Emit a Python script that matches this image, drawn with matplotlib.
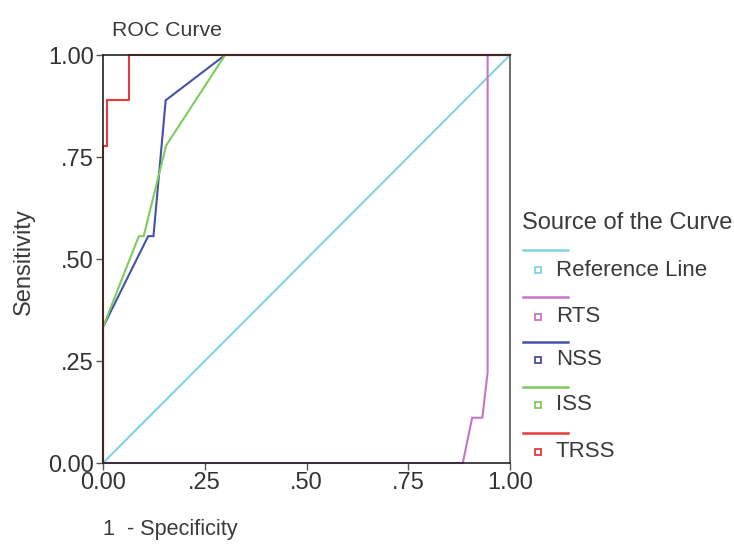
import matplotlib
matplotlib.use("Agg")
import matplotlib.pyplot as plt
from matplotlib.lines import Line2D

plt.rcParams['font.family'] = ['Liberation Sans', 'DejaVu Sans']

# ROC curve data (1 - specificity, sensitivity)
ref_x = [0.0, 1.0]
ref_y = [0.0, 1.0]

rts_x = [0.0, 0.884, 0.907, 0.932, 0.945, 0.945, 1.0]
rts_y = [0.0, 0.0, 0.111, 0.111, 0.222, 1.0, 1.0]

nss_x = [0.0, 0.0, 0.111, 0.124, 0.154, 0.30, 1.0]
nss_y = [0.0, 0.333, 0.556, 0.556, 0.889, 1.0, 1.0]

iss_x = [0.0, 0.0, 0.088, 0.100, 0.155, 0.30, 1.0]
iss_y = [0.0, 0.333, 0.556, 0.556, 0.778, 1.0, 1.0]

trss_x = [0.0, 0.0, 0.010, 0.010, 0.065, 0.065, 1.0]
trss_y = [0.0, 0.778, 0.778, 0.889, 0.889, 1.0, 1.0]

series_names = ["Reference Line", "RTS", "NSS", "ISS", "TRSS"]
series_colors = ["#80d4e0", "#c674c6", "#4452aa", "#7fcc5c", "#e83a3a"]
series_data = [(ref_x, ref_y), (rts_x, rts_y), (nss_x, nss_y), (iss_x, iss_y), (trss_x, trss_y)]

ticks = [0.0, 0.25, 0.5, 0.75, 1.0]
tick_labels = ["0.00", ".25", ".50", ".75", "1.00"]

W, H = 734, 544
fig = plt.figure(figsize=(W / 100, H / 100), dpi=100)
ax = fig.add_axes([103 / W, 1 - 463 / H, (510 - 103) / W, (463 - 55) / H])

for (xs, ys), c in zip(series_data, series_colors):
    ax.plot(xs, ys, color=c, lw=1.5, clip_on=False, solid_joinstyle='miter')

ax.set_xlim(0, 1)
ax.set_ylim(0, 1)
ax.set_xticks(ticks)
ax.set_xticklabels(tick_labels)
ax.set_yticks(ticks)
ax.set_yticklabels(tick_labels)
ax.tick_params(axis='both', direction='out', length=5, width=1, color='#555555',
               labelsize=17, labelcolor='#333333', pad=1.5)
for side in ['left', 'bottom', 'top']:
    ax.spines[side].set_color('#222222')
    ax.spines[side].set_linewidth(1.2)
ax.spines['right'].set_color('#555555')
ax.spines['right'].set_linewidth(1.2)

txtc = '#3a3a3a'
fig.text(112 / W, 1 - 30 / H, "ROC Curve", fontsize=15.3, color=txtc, ha='left', va='center')
fig.text(24 / W, 1 - 262 / H, "Sensitivity", fontsize=17, color=txtc, ha='center', va='center',
         rotation=90)
fig.text(103 / W, 1 - 529 / H, "1  - Specificity", fontsize=15.6, color=txtc, ha='left', va='center')

# Legend drawn manually
fig.text(522 / W, 1 - 223 / H, "Source of the Curve", fontsize=17, color=txtc, ha='left', va='center')
line_ys = [250, 296.5, 341.5, 386.5, 433]
mark_ys = [270, 316.5, 359.5, 405, 451.5]
for name, c, ly, my in zip(series_names, series_colors, line_ys, mark_ys):
    fig.add_artist(Line2D([523 / W, 568 / W], [1 - ly / H, 1 - ly / H], color=c, lw=1.8,
                          transform=fig.transFigure))
    fig.add_artist(Line2D([538 / W], [1 - my / H], marker='s', markersize=5, markerfacecolor='white',
                          markeredgecolor=c, markeredgewidth=1.3, lw=0, transform=fig.transFigure))
    fig.text(556 / W, 1 - my / H, name, fontsize=16, color=txtc, ha='left', va='center')

fig.savefig("out.png", dpi=100)
